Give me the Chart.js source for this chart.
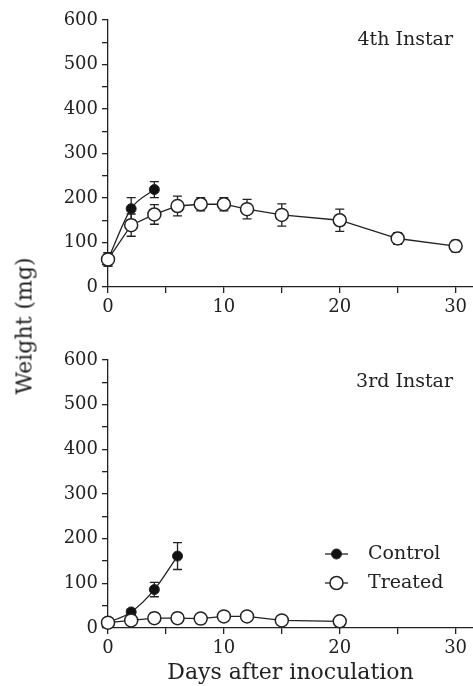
<!DOCTYPE html>
<html>
<head>
<meta charset="utf-8">
<script src="https://cdn.jsdelivr.net/npm/chart.js@4"></script>
<style>
html, body { margin: 0; padding: 0; background: #fff; }
#wrap { position: relative; width: 473px; height: 686px; }
#topChart { position: absolute; left: 0; top: 0; }
#bottomChart { position: absolute; left: 0; top: 320px; }
#ytitle {
  position: absolute; left: 24px; top: 326px;
  transform: translate(-50%, -50%) rotate(-90deg);
  font: 22px "DejaVu Serif"; color: #222; white-space: nowrap;
}
</style>
</head>
<body>
<div id="wrap">
  <canvas id="topChart" width="473" height="320"></canvas>
  <canvas id="bottomChart" width="473" height="366"></canvas>
  <div id="ytitle">Weight (mg)</div>
</div>
<script>
// 4th instar
var days4Control = [0, 2, 4];
var weight4Control = [62, 176, 219];
var err4Control = [15, 25, 18];
var days4Treated = [0, 2, 4, 6, 8, 10, 12, 15, 20, 25, 30];
var weight4Treated = [62, 139, 163, 182, 186, 186, 175, 162, 150, 109, 92];
var err4Treated = [15, 25, 22, 22, 15, 15, 22, 25, 25, 13, 13];

// 3rd instar
var days3Control = [0, 2, 4, 6];
var weight3Control = [12, 36, 86, 161];
var err3Control = [5, 6, 16, 30];
var days3Treated = [0, 2, 4, 6, 8, 10, 12, 15, 20];
var weight3Treated = [12, 17, 22, 22, 21, 26, 26, 17, 15];
var err3Treated = [8, 10, 11, 11, 11, 10, 10, 9, 10];

var seriesLabels = ['Control', 'Treated'];
var panelLabels = ['4th Instar', '3rd Instar'];
var xTitle = 'Days after inoculation';

var ink = '#222';
var serif = 'DejaVu Serif';

function points(xs, ys){
    return xs.map(function(x, i){ return {x: x, y: ys[i]}; });
}

var errorBarPlugin = {
    id: 'errorBars',
    beforeDatasetsDraw: function(chart){
        var ctx = chart.ctx;
        var yScale = chart.scales.y;
        chart.data.datasets.forEach(function(ds, i){
            if(!ds.errorBars) return;
            var meta = chart.getDatasetMeta(i);
            ctx.save();
            ctx.strokeStyle = ink;
            ctx.lineWidth = 1.3;
            meta.data.forEach(function(pt, j){
                var v = ds.data[j].y, e = ds.errorBars[j];
                var yTop = yScale.getPixelForValue(v + e);
                var yBot = yScale.getPixelForValue(v - e);
                ctx.beginPath();
                ctx.moveTo(pt.x, yTop); ctx.lineTo(pt.x, yBot);
                ctx.moveTo(pt.x - 4.5, yTop); ctx.lineTo(pt.x + 4.5, yTop);
                ctx.moveTo(pt.x - 4.5, yBot); ctx.lineTo(pt.x + 4.5, yBot);
                ctx.stroke();
            });
            ctx.restore();
        });
    }
};

// panel label + optional legend drawn inside the plot area
var panelTextPlugin = {
    id: 'panelText',
    afterDraw: function(chart, args, opts){
        var ctx = chart.ctx;
        var area = chart.chartArea;
        ctx.save();
        ctx.fillStyle = ink;
        ctx.font = '19px "' + serif + '"';
        ctx.textAlign = 'right';
        ctx.textBaseline = 'middle';
        ctx.fillText(opts.label, area.right - 20, area.top + opts.labelTop);

        if(opts.legend){
            chart.data.datasets.forEach(function(ds, i){
                var y = area.top + 194 + i * 29;
                var x0 = 325, x1 = 348, xc = (x0 + x1) / 2;
                ctx.strokeStyle = ink;
                ctx.lineWidth = 1.3;
                ctx.beginPath();
                ctx.moveTo(x0, y); ctx.lineTo(x1, y);
                ctx.stroke();
                ctx.beginPath();
                ctx.arc(xc, y, ds.pointRadius, 0, Math.PI * 2);
                ctx.fillStyle = ds.pointBackgroundColor;
                ctx.fill();
                ctx.lineWidth = ds.pointBorderWidth;
                ctx.stroke();
                ctx.fillStyle = ink;
                ctx.textAlign = 'left';
                ctx.fillText(ds.label, 368, y);
            });
        }
        ctx.restore();
    }
};

function makeChart(id, ctrlX, ctrlY, ctrlErr, trtX, trtY, trtErr, panel){
    var canvas = document.getElementById(id).getContext('2d');
    return new Chart(canvas, {
        type: 'line',
        data: {
            datasets: [{
                label: seriesLabels[0],
                data: points(ctrlX, ctrlY),
                errorBars: ctrlErr,
                borderColor: ink,
                borderWidth: 1.3,
                cubicInterpolationMode: 'monotone',
                pointRadius: 5,
                pointBackgroundColor: '#111',
                pointBorderColor: ink,
                pointBorderWidth: 1,
                order: 1,
                clip: false
            }, {
                label: seriesLabels[1],
                data: points(trtX, trtY),
                errorBars: trtErr,
                borderColor: ink,
                borderWidth: 1.3,
                tension: 0,
                pointRadius: 6.5,
                pointBackgroundColor: '#fff',
                pointBorderColor: ink,
                pointBorderWidth: 1.5,
                order: 0,
                clip: false
            }]
        },
        options: {
            responsive: false,
            animation: false,
            layout: { autoPadding: false, padding: { top: panel.padTop, right: 0, bottom: 0, left: 0 } },
            plugins: {
                legend: { display: false },
                tooltip: { enabled: false },
                panelText: { label: panel.label, labelTop: panel.labelTop, legend: panel.legend }
            },
            scales: {
                x: {
                    type: 'linear',
                    min: 0,
                    max: 31.5,
                    afterFit: function(scale){
                        scale.height = panel.xHeight;
                        scale.paddingLeft = 0;
                        scale.paddingRight = 0;
                    },
                    border: { display: true, color: ink, width: 1.3 },
                    grid: { display: true, drawOnChartArea: false, drawTicks: true, tickLength: 6, color: ink, lineWidth: 1.3 },
                    ticks: {
                        stepSize: 5,
                        includeBounds: false,
                        autoSkip: false,
                        maxRotation: 0,
                        padding: 4,
                        color: ink,
                        font: { family: serif, size: 18 },
                        callback: function(v){ return v % 10 === 0 ? v : ''; }
                    },
                    title: {
                        display: panel.showXTitle,
                        text: xTitle,
                        color: ink,
                        padding: 0,
                        font: { family: serif, size: 22 }
                    }
                },
                y: {
                    min: 0,
                    max: 600,
                    afterFit: function(scale){ scale.width = 108; },
                    border: { display: true, color: ink, width: 1.3 },
                    grid: { display: true, drawOnChartArea: false, drawTicks: true, tickLength: 6, color: ink, lineWidth: 1.3 },
                    ticks: {
                        stepSize: 50,
                        autoSkip: false,
                        padding: 4,
                        color: ink,
                        font: { family: serif, size: 18 },
                        callback: function(v){ return v % 100 === 0 ? v : ''; }
                    }
                }
            }
        },
        plugins: [errorBarPlugin, panelTextPlugin]
    });
}

makeChart('topChart', days4Control, weight4Control, err4Control,
    days4Treated, weight4Treated, err4Treated,
    { label: panelLabels[0], labelTop: 20, legend: false, padTop: 20, xHeight: 33, showXTitle: false });

makeChart('bottomChart', days3Control, weight3Control, err3Control,
    days3Treated, weight3Treated, err3Treated,
    { label: panelLabels[1], labelTop: 22, legend: true, padTop: 40, xHeight: 58, showXTitle: true });
</script>
</body>
</html>
